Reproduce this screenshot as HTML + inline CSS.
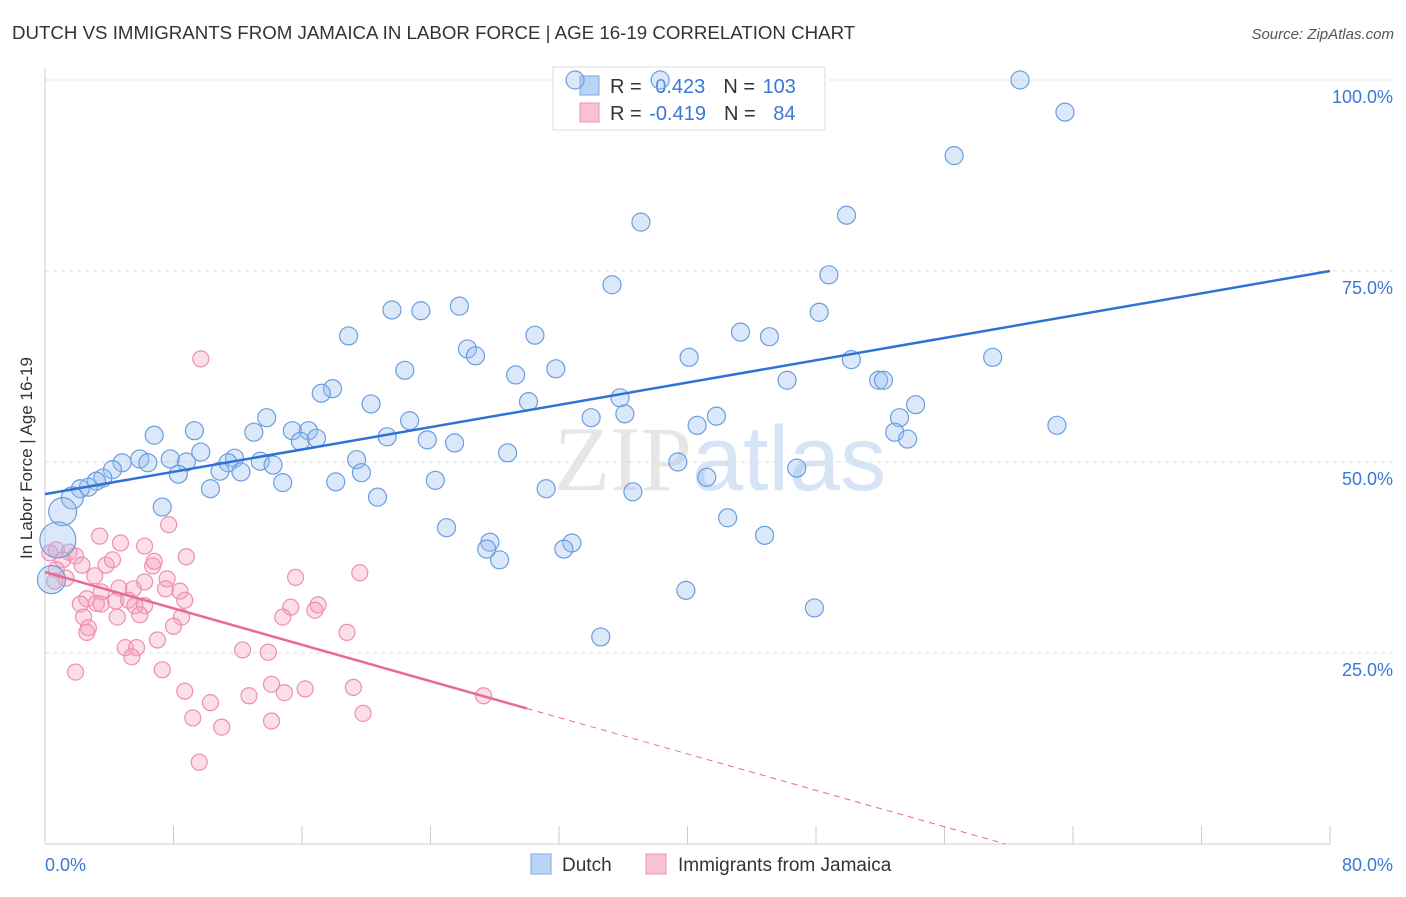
<!DOCTYPE html>
<html><head><meta charset="utf-8"><style>
body{margin:0;background:#fff;font-family:"Liberation Sans",sans-serif}
</style></head><body>
<svg width="1406" height="892" xmlns="http://www.w3.org/2000/svg" id="chart">
<text x="12" y="39" font-size="18.7" fill="#333">DUTCH VS IMMIGRANTS FROM JAMAICA IN LABOR FORCE | AGE 16-19 CORRELATION CHART</text>
<text x="1394" y="39" font-size="15" fill="#555" text-anchor="end" font-style="italic">Source: ZipAtlas.com</text>
<text x="720" y="490" font-size="92" fill="#e6e6e6" text-anchor="middle" font-family="Liberation Serif,serif">ZIP<tspan fill="#d6e4f5" font-family="Liberation Sans,sans-serif">atlas</tspan></text>
<g id="grid"></g>
<g id="axes"></g>
<g>
<rect x="553" y="67" width="272" height="63" fill="#fff" stroke="#ddd"/>
<rect x="580" y="76" width="19" height="19" fill="#b8d3f3" stroke="#7aa8e0"/>
<rect x="580" y="103" width="19" height="19" fill="#f8c2d3" stroke="#e995b2"/>
<text x="610" y="93" font-size="20" fill="#333">R = <tspan fill="#3a78d4" dx="8">0.423</tspan><tspan dx="18">N = </tspan><tspan fill="#3a78d4" dx="2">103</tspan></text>
<text x="610" y="120" font-size="20" fill="#333">R = <tspan fill="#3a78d4" dx="2">-0.419</tspan><tspan dx="18">N = </tspan><tspan fill="#3a78d4" dx="12">84</tspan></text>
</g>
<g id="marks"></g>
<text x="32" y="458" font-size="17" fill="#333" text-anchor="middle" transform="rotate(-90 32 458)">In Labor Force | Age 16-19</text>
<g>
<rect x="531" y="854" width="20" height="20" fill="#b8d3f3" stroke="#7aa8e0"/>
<text x="562" y="871" font-size="19" fill="#333">Dutch</text>
<rect x="646" y="854" width="20" height="20" fill="#f8c2d3" stroke="#e995b2"/>
<text x="678" y="871" font-size="19" fill="#333">Immigrants from Jamaica</text>
</g>
</svg>
<script>
const xTicks=[0,8,16,24,32,40,48,56,64,72,80];
const yTicks=[25,50,75,100];
const yTickLabels=["25.0%","50.0%","75.0%","100.0%"];
const xTickLabels=["0.0%","80.0%"];
const dutchX=[33.0,38.3,60.7,63.5,56.6,49.9,37.1,48.8,35.3,25.8,21.6,23.4,48.2,18.9,30.5,43.3,45.1,26.3,26.8,40.1,59.0,50.2,22.4,31.8,29.3,46.2,51.9,52.2,17.9,17.2,35.8,30.1,20.3,54.2,13.8,34.0,36.1,41.8,22.7,53.2,40.6,63.0,15.4,16.4,6.8,9.3,13.0,52.9,15.9,16.9,21.3,23.8,25.5,53.7,9.7,28.8,5.9,4.8,6.4,7.8,8.8,11.8,11.4,13.4,14.2,19.4,39.4,46.8,4.2,8.3,10.9,12.2,19.7,3.6,3.2,24.3,41.2,2.7,14.8,18.1,2.2,10.3,31.2,36.6,20.7,1.7,7.3,1.1,42.5,25.0,44.8,27.7,32.8,27.5,32.3,28.3,0.8,0.4,39.9,47.9,34.6];
const dutchY=[100,100,100,95.8,90.1,82.3,81.4,74.5,73.2,70.4,69.9,69.8,69.6,66.5,66.6,67.0,66.4,64.8,63.9,63.7,63.7,63.4,62.0,62.2,61.4,60.7,60.7,60.7,59.6,59.0,58.4,57.9,57.6,57.5,55.8,55.8,56.3,56.0,55.4,55.8,54.8,54.8,54.1,54.1,53.5,54.1,53.9,53.9,52.7,53.1,53.3,52.9,52.5,53.0,51.3,51.2,50.4,49.9,49.9,50.4,50.0,50.5,49.9,50.1,49.6,50.3,50.0,49.2,49.0,48.4,48.8,48.7,48.6,47.9,47.5,47.6,48.0,46.7,47.3,47.4,46.5,46.5,46.5,46.1,45.4,45.3,44.1,43.5,42.7,41.4,40.4,39.5,39.4,38.6,38.6,37.2,39.8,34.6,33.2,30.9,27.1];
const dutchR=[9,9,9,9,9,9,9,9,9,9,9,9,9,9,9,9,9,9,9,9,9,9,9,9,9,9,9,9,9,9,9,9,9,9,9,9,9,9,9,9,9,9,9,9,9,9,9,9,9,9,9,9,9,9,9,9,9,9,9,9,9,9,9,9,9,9,9,9,9,9,9,9,9,9,9,9,9,9,9,9,9,9,9,9,9,11,9,14,9,9,9,9,9,9,9,9,18,14,9,9,9];
const jamX=[9.7,7.7,3.4,4.7,6.2,8.8,0.7,1.5,1.9,0.3,1.1,2.3,3.8,4.2,0.7,1.3,3.1,6.7,6.8,7.6,0.6,15.6,19.6,4.6,5.5,6.2,7.5,8.4,3.5,2.6,3.5,4.4,5.2,5.6,6.2,8.7,3.2,2.2,15.3,17.0,16.8,2.4,4.5,5.9,8.5,14.8,2.7,8.0,2.6,18.8,7.0,5.0,5.7,12.3,13.9,5.4,1.9,7.3,14.1,8.7,12.7,14.9,16.2,19.2,27.3,10.3,9.2,14.1,19.8,11.0,9.6];
const jamY=[63.5,41.8,40.3,39.4,39.0,37.6,38.5,38.2,37.7,38.1,37.2,36.5,36.5,37.2,35.9,34.8,35.1,36.4,37.0,34.7,34.4,34.9,35.5,33.5,33.4,34.3,33.4,33.1,33.0,32.1,31.4,31.8,31.9,31.2,31.2,31.9,31.5,31.4,31.0,31.3,30.6,29.7,29.7,30.0,29.7,29.7,28.3,28.5,27.7,27.7,26.7,25.7,25.7,25.4,25.1,24.5,22.5,22.8,20.9,20.0,19.4,19.8,20.3,20.5,19.4,18.5,16.5,16.1,17.1,15.3,10.7];
const dutchTrend=[45.8,75.0];
const jamTrend=[35.6,59.8];
const jamSolidEnd=30;
const X0=45,X1=1330,Y0=844,YS=7.64;
const sx=v=>X0+(X1-X0)*v/80, sy=v=>Y0-v*YS;
const NS="http://www.w3.org/2000/svg";
function mk(p,t,a){const e=document.createElementNS(NS,t);for(const k in a)e.setAttribute(k,a[k]);p.appendChild(e);return e;}
const grid=document.getElementById('grid'),axes=document.getElementById('axes'),marks=document.getElementById('marks');
yTicks.forEach((v,i)=>{
 const l=mk(grid,'line',{x1:X0,x2:1394,y1:sy(v),y2:sy(v),stroke:'#ddd','stroke-dasharray':'4,4'});
 
 
 const t=mk(axes,'text',{x:1393,y:sy(v)+23,'font-size':18,fill:'#3a78d4','text-anchor':'end'});t.textContent=yTickLabels[i];
 
 
});
const ax=mk(axes,'line',{x1:X0,x2:X0,y1:68,y2:Y0,stroke:'#ccc'});


const bx=mk(axes,'line',{x1:X0,x2:X1,y1:Y0,y2:Y0,stroke:'#ccc'});


xTicks.forEach(v=>{const l=mk(axes,'line',{x1:sx(v),x2:sx(v),y1:Y0,y2:Y0-18,stroke:'#ccc'});
 
 });
xTickLabels.forEach((s,i)=>{const t=mk(axes,'text',{x:i?1393:45,y:871,'font-size':18,fill:'#3a78d4','text-anchor':i?'end':'start'});t.textContent=s;
 
 });
jamX.forEach((x,i)=>{const c=mk(marks,'circle',{cx:sx(x),cy:sy(jamY[i]),r:8,fill:'rgba(244,160,190,0.35)',stroke:'#ee8fb0','stroke-width':1.2});
 
 });
dutchX.forEach((x,i)=>{const c=mk(marks,'circle',{cx:sx(x),cy:sy(dutchY[i]),r:dutchR[i],fill:'rgba(150,190,240,0.35)',stroke:'#6a9ee0','stroke-width':1.2});
 
 });
const bl=mk(marks,'line',{x1:sx(0),y1:sy(dutchTrend[0]),x2:sx(80),y2:sy(dutchTrend[1]),stroke:'#2f72d6','stroke-width':2.5});


const jy=x=>jamTrend[0]-(jamTrend[0]/jamTrend[1])*x;
const pl=mk(marks,'line',{x1:sx(0),y1:sy(jy(0)),x2:sx(jamSolidEnd),y2:sy(jy(jamSolidEnd)),stroke:'#e86a96','stroke-width':2.5});


const pd=mk(marks,'line',{x1:sx(jamSolidEnd),y1:sy(jy(jamSolidEnd)),x2:sx(jamTrend[1]),y2:sy(0),stroke:'#e86a96','stroke-width':1,'stroke-dasharray':'6,5'});


</script>
</body></html>
